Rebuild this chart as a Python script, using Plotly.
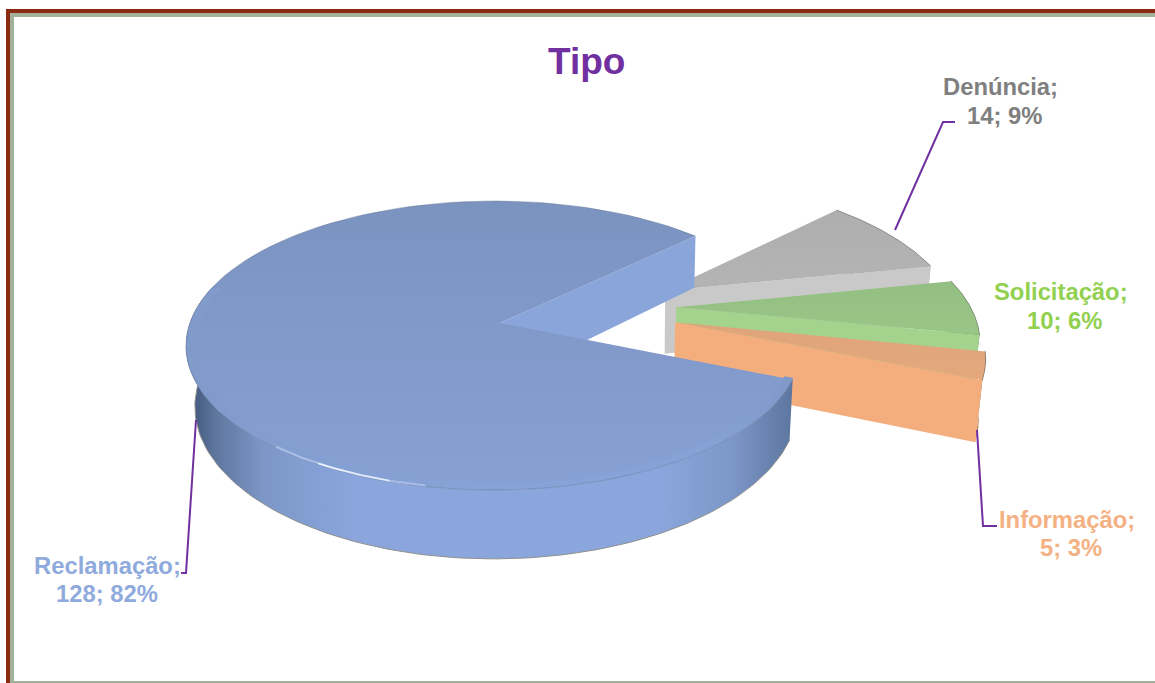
import numpy as np
import plotly.graph_objects as go

categories = ["Denúncia", "Solicitação", "Informação", "Reclamação"]
values = [14, 10, 5, 128]
percents = [9, 6, 3, 82]
label_colors = ["#7f7f7f", "#92d050", "#f4b183", "#8faadc"]
title_text = "Tipo"

START = 46.2
CX, CY, A, B, K, M = 500, 323, 304, 141, 0.156, 0.02
offsets = [(0.57, 0.24), (0.597, 0.115), (0.583, 0.005), (0.0, 0.0)]
radii = [1.01, 1.03, 1.035, 1.0]
depths = [66, 58, 60, 58]
top_cols = [("#b4b4b4", "#aeaeae"), ("#99c587", "#93c082"), ("#e3a87c", "#dfa47a"), ("#87a1d5", "#7b93bf")]
wall_cols = ["#c9c9c9", "#a3d38c", "#f4ae7e", "#89a5da"]
side_stops = [
    [[0, "#8c8c8c"], [1, "#a8a8a8"]],
    [[0, "#7ea36b"], [1, "#5f7f4f"]],
    [[0, "#c08a60"], [1, "#5a4a3a"]],
    [[0, "#3c4f72"], [0.05, "#5f779f"], [0.13, "#7d97c8"], [0.28, "#8aa6dc"],
     [0.78, "#8aa6dc"], [0.9, "#7c97c8"], [1, "#5c769f"]],
]


def proj(u, v, depth=None):
    d = 1 + K * v + M * u
    x = CX + A * u / d
    y = CY - B * v / d
    if depth is not None:
        y = y + depth / d
        x = 637 + (x - 637) * 0.98
    return x, y


def arc(a0, a1, n=120):
    t = np.radians(np.linspace(a0, a1, n))
    return np.sin(t), np.cos(t)


def poly(x, y, grad=None, color=None):
    kw = dict(x=list(x), y=list(y), mode="lines", fill="toself",
              line=dict(width=0), hoverinfo="skip", showlegend=False)
    if grad is not None:
        kw["fillgradient"] = grad
    else:
        kw["fillcolor"] = color
    return go.Scatter(**kw)


def add_cut_wall(fig, u_end, v_end, ox, oy, dep, col):
    ax, ay = proj(np.array([ox, u_end]), np.array([oy, v_end]))
    bx, by = proj(np.array([ox, u_end]), np.array([oy, v_end]), dep)
    fig.add_trace(poly([ax[0], ax[1], bx[1], bx[0]], [ay[0], ay[1], by[1], by[0]], color=col))


fig = go.Figure()
total = sum(values)
a = START
for i, val in enumerate(values):
    span = val / total * 360
    a0, a1 = a, a + span
    a = a1
    ox, oy = offsets[i]
    dep = depths[i]
    r = radii[i]
    u, v = arc(a0, a1)
    u, v = u * r + ox, v * r + oy
    xt, yt = proj(u, v)

    if i == 3:
        add_cut_wall(fig, u[-1], v[-1], ox, oy, dep, wall_cols[i])
        su, sv = arc(a0, 285, 120)
    else:
        su, sv = arc(a0, a1, 120)
        su, sv = su * r + ox, sv * r + oy
    sxt, syt = proj(su, sv)
    sxb, syb = proj(su, sv, dep)
    fig.add_trace(poly(np.r_[sxt, sxb[::-1]], np.r_[syt, syb[::-1]],
                       grad=dict(type="horizontal", colorscale=side_stops[i])))
    if i == 3:
        fig.add_trace(go.Scatter(x=sxb, y=syb, mode="lines", line=dict(color="#8f8f8f", width=1),
                                 hoverinfo="skip", showlegend=False))
    else:
        add_cut_wall(fig, u[-1], v[-1], ox, oy, dep, wall_cols[i])

    px, py = proj(np.r_[ox, u], np.r_[oy, v])
    fig.add_trace(poly(px, py, grad=dict(type="vertical", colorscale=[[0, top_cols[i][0]], [1, top_cols[i][1]]])))

    if i == 3:
        # soft bevel along the near rim
        bu, bv = arc(112, 285, 120)
        x1, y1 = proj(bu, bv)
        x2, y2 = proj(bu * 0.97, bv * 0.97)
        fig.add_trace(poly(np.r_[x1, x2[::-1]], np.r_[y1, y2[::-1]],
                           grad=dict(type="horizontal", colorscale=[[0, "#809aca"], [0.25, "#84a0d2"],
                                                                     [0.5, "#87a2d6"], [0.85, "#87a2d6"],
                                                                     [1, "#7f99c9"]])))

    fig.add_trace(go.Scatter(x=xt, y=yt, mode="lines",
                             line=dict(color="rgba(90,90,90,0.45)" if i != 3 else "rgba(95,110,140,0.4)", width=1),
                             hoverinfo="skip", showlegend=False))

    if i == 3:
        for (h0, h1, col, w) in ((192, 220, "#a9bee6", 2), (198, 211, "#e6eefb", 1.6)):
            hu, hv = arc(h0, h1, 40)
            hx, hy = proj(hu * 0.995, hv * 0.995)
            fig.add_trace(go.Scatter(x=hx, y=hy, mode="lines", line=dict(color=col, width=w),
                                     hoverinfo="skip", showlegend=False))

LEAD = "#7030a0"
shapes = [
    dict(type="rect", x0=6, x1=1155, y0=9, y1=683, fillcolor="#8b2a12", line_width=0, layer="below"),
    dict(type="rect", x0=10, x1=1155, y0=13, y1=683, fillcolor="#a3b09a", line_width=0, layer="below"),
    dict(type="rect", x0=14, x1=1155, y0=17, y1=681, fillcolor="#ffffff", line_width=0, layer="below"),
    dict(type="path", path="M 955 122 L 943 122 L 895 230", line=dict(color=LEAD, width=2), layer="above"),
    dict(type="path", path="M 997 526 L 983 526 L 977 430", line=dict(color=LEAD, width=2), layer="above"),
    dict(type="path", path="M 181 573 L 186 573 L 196 420", line=dict(color=LEAD, width=2), layer="above"),
]

line1_pos = [(1000, 86), (1061, 291), (1067, 519), (107, 565)]
line2_pos = [(1004, 115), (1064, 320), (1071, 547), (107, 593)]
anns = [dict(x=586, y=61, text=title_text, showarrow=False,
             font=dict(family="Liberation Sans", size=37, color="#7030a0", weight="bold"))]
for n, val, pc, col, p1, p2 in zip(categories, values, percents, label_colors, line1_pos, line2_pos):
    font = dict(family="Liberation Sans", size=23.8, color=col, weight="bold")
    anns.append(dict(x=p1[0], y=p1[1], text=f"{n};", showarrow=False, font=font))
    anns.append(dict(x=p2[0], y=p2[1], text=f"{val}; {pc}%", showarrow=False, font=font))

fig.update_layout(
    width=1155, height=683, margin=dict(l=0, r=0, t=0, b=0),
    paper_bgcolor="#ffffff", plot_bgcolor="#ffffff", showlegend=False,
    xaxis=dict(range=[0, 1155], visible=False, fixedrange=True),
    yaxis=dict(range=[683, 0], visible=False, fixedrange=True),
    shapes=shapes, annotations=anns,
)
fig.write_html("out.html", config=dict(displayModeBar=False),
               post_script="document.body.style.margin='0';document.documentElement.style.overflow='hidden';")
